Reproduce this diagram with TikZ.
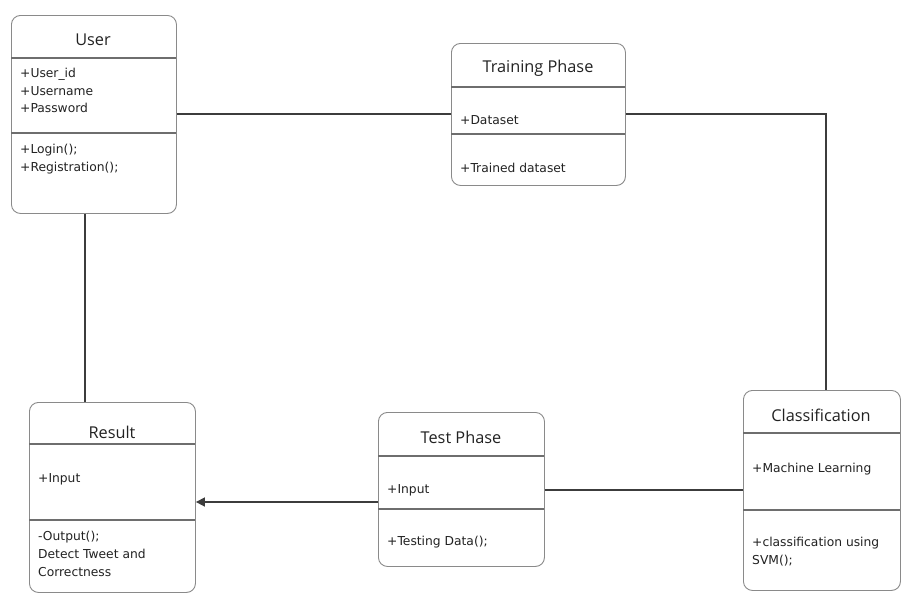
\documentclass[tikz,border=0pt]{standalone}
\usepackage{fontspec}
\setmainfont{DejaVu Sans}
\newfontfamily\titlefont{Open Sans}
\usetikzlibrary{arrows.meta}
\definecolor{boxgray}{HTML}{8A8A8A}
\definecolor{divgray}{HTML}{6E6E6E}
\definecolor{conngray}{HTML}{3C3C3C}
\definecolor{txt}{HTML}{222222}
\begin{document}
\begin{tikzpicture}[x=1pt,y=-1pt,
  box/.style={draw=boxgray, line width=0.9pt, rounded corners=9pt, anchor=north west, inner sep=0pt},
  div/.style={draw=divgray, line width=1.1pt},
  conn/.style={draw=conngray, line width=1.6pt},
  ttl/.style={font=\titlefont\fontsize{16.3}{19}\selectfont, text=txt, inner sep=0pt},
  attr/.style={anchor=west, font=\fontsize{12.3}{15}\selectfont, text=txt, inner sep=0pt},
]
\useasboundingbox (0,0) rectangle (901,595);
\fill[white] (0,0) rectangle (901,595);

% boxes
\node[box, minimum width=165pt, minimum height=198pt] (user) at (11,15) {};
\node[box, minimum width=174pt, minimum height=142pt] (train) at (451,43) {};
\node[box, minimum width=166pt, minimum height=190pt] (res) at (29,402) {};
\node[box, minimum width=166pt, minimum height=154pt] (test) at (378,412) {};
\node[box, minimum width=157pt, minimum height=200pt] (class) at (743,390) {};

% dividers
\draw[div] (11,58) -- (176,58);
\draw[div] (11,133) -- (176,133);
\draw[div] (451,87) -- (625,87);
\draw[div] (451,134) -- (625,134);
\draw[div] (29,444) -- (195,444);
\draw[div] (29,520) -- (195,520);
\draw[div] (378,456) -- (544,456);
\draw[div] (378,509) -- (544,509);
\draw[div] (743,433) -- (900,433);
\draw[div] (743,510) -- (900,510);

% titles
\node[ttl] (userT) at (93,40) {User};
\node[ttl] (trainT) at (538,68) {Training Phase};
\node[ttl] (resT) at (112,432) {Result};
\node[ttl] (testT) at (461,437) {Test Phase};
\node[ttl] (classT) at (821,415) {Classification};

% attributes / methods
\node[attr] (u1) at (20,74) {+User\_id};
\node[attr] (u2) at (20,91) {+Username};
\node[attr] (u3) at (20,108) {+Password};
\node[attr] (u4) at (20,150) {+Login();};
\node[attr] (u5) at (20,168) {+Registration();};

\node[attr] (t1) at (460,120) {+Dataset};
\node[attr] (t2) at (460,168) {+Trained dataset};

\node[attr] (r1) at (38,479) {+Input};
\node[attr] (r2) at (38,537) {-Output();};
\node[attr] (r3) at (38,554) {Detect Tweet and};
\node[attr] (r4) at (38,572) {Correctness};

\node[attr] (s1) at (387,490) {+Input};
\node[attr] (s2) at (387,542) {+Testing Data();};

\node[attr] (c1) at (752,469) {+Machine Learning};
\node[attr] (c2) at (752,543) {+classification using};
\node[attr] (c3) at (752,561) {SVM();};

% connectors
\coordinate (ux) at (85,0);
\coordinate (cx) at (826,0);
\coordinate (ay) at (0,502);
\coordinate (ly) at (0,114);
\draw[conn] (user.south -| ux) -- (res.north -| ux);
\draw[conn] (user.east |- ly) -- (train.west |- ly);
\draw[conn] (train.east |- ly) -| (class.north -| cx);
\draw[conn] (class.west |- 0,490) -- (test.east |- 0,490);
\draw[conn, -{Triangle[length=9pt,width=9pt]}] (test.west |- ay) -- (res.east |- ay);
\end{tikzpicture}
\end{document}
